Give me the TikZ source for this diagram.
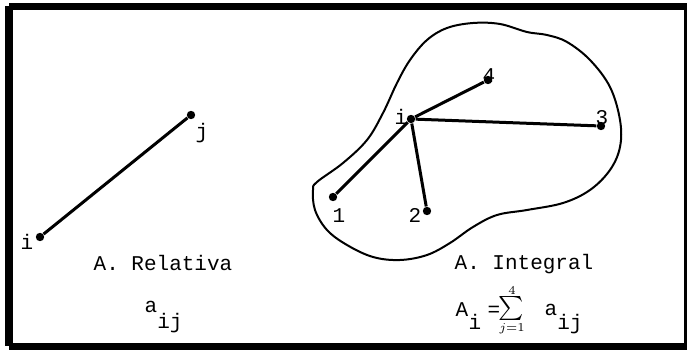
\documentclass[tikz,border=0pt]{standalone}
\usepackage{exscale}
\usepackage{fontspec}
\setmonofont{Liberation Mono}
\usetikzlibrary{positioning}
\tikzset{
  dot/.style={circle, fill=black, inner sep=0pt, minimum size=4.2pt},
  seg/.style={line width=1.5pt},
  blob/.style={line width=1pt},
  lbl/.style={anchor=base, inner sep=0pt, font=\fontsize{10.5}{12}\selectfont\ttfamily},
  lim/.style={anchor=base, inner sep=0pt, font=\fontsize{6}{6}\selectfont},
  frame/.style={line width=3.6pt},
}

\begin{document}
\begin{tikzpicture}[x=0.5pt, y=-0.5pt]
  \useasboundingbox (0,0) rectangle (687,352);
  \draw[frame] (9,6.5) -- (688,6.5) (9,346.5) -- (688,346.5) (9,6.5) -- (9,346.5) (688,6.5) -- (688,346.5);

  % relative accessibility
  \node[dot] (ri) at (40,237) {};
  \node[dot] (rj) at (191,115) {};
  \draw[seg] (ri) -- (rj);
  \node[lbl] (lri) at (27,250) {i};
  \node[lbl] (lrj) at (202,139) {j};
  \node[lbl] (relname) at (163,271) {A. Relativa};
  \node[lbl] (ra) at (151,313) {a};
  \node[lbl] (rsub) at (170,329) {ij};

  % integral accessibility
  \draw[blob] plot[smooth cycle, tension=0.6] coordinates {
    (317,182) (343,163) (367,140) (383,113) (397,83) (410,60) (427,40) (447,28)
    (473,23) (500,24) (527,32) (547,35) (567,42) (590,60) (610,87) (620,120)
    (620,147) (610,170) (590,190) (563,203) (527,210) (497,215) (473,227)
    (450,243) (427,255) (400,260) (373,257) (347,245) (327,230) (315,210) (313,190)};
  \node[dot] (ci) at (411,119) {};
  \node[dot] (c1) at (333,197) {};
  \node[dot] (c2) at (427,211) {};
  \node[dot] (c3) at (601,126) {};
  \node[dot] (c4) at (488,80) {};
  \foreach \t in {c1,c2,c3,c4}
    \draw[seg] (ci) -- (\t);
  \node[lbl] (lci) at (401,125) {i};
  \node[lbl] (lc1) at (339,223) {1};
  \node[lbl] (lc2) at (415,223) {2};
  \node[lbl] (lc3) at (602,125) {3};
  \node[lbl] (lc4) at (489,83) {4};
  \node[lbl] (intname) at (524,270) {A. Integral};
  \node[lbl] (ia) at (462,317) {A};
  \node[lbl] (isub) at (475,330) {i};
  \node[lbl] (ieq) at (494,317) {=};
  \node[inner sep=0pt, font=\fontsize{11.5}{12}\selectfont] (isum) at (511,309) {$\sum$};
  \node[lim] (itop) at (512,295) {$4$};
  \node[lim] (ibot) at (512,332) {$j{=}1$};
  \node[lbl] (ib) at (551,316) {a};
  \node[lbl] (ibsub) at (570,330) {ij};
\end{tikzpicture}
\end{document}
